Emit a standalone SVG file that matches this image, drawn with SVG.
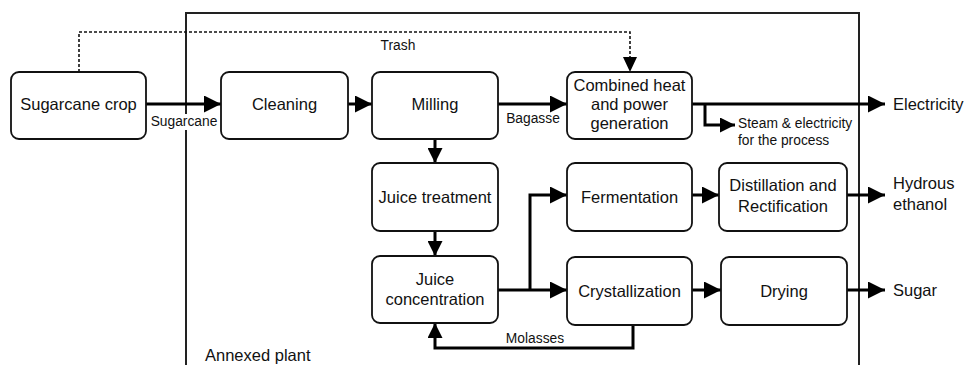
<svg xmlns="http://www.w3.org/2000/svg" width="964" height="365" viewBox="0 0 964 365">
<style>
.node rect{fill:#fff;stroke:#111;stroke-width:1.8}
.t{font-family:"Liberation Sans",Arial,sans-serif;font-size:16.5px;fill:#111;text-anchor:middle}
.s{font-family:"Liberation Sans",Arial,sans-serif;font-size:13.8px;fill:#111}
.c{fill:none;stroke:#000;stroke-width:3}
.d{fill:none;stroke:#111;stroke-width:1.6;stroke-dasharray:3 2}
</style>
<defs>
<marker id="ah" markerUnits="userSpaceOnUse" markerWidth="17" markerHeight="17" refX="17" refY="8.5" orient="auto">
<path d="M0,0 L17,8.5 L0,17 z" fill="#000"/>
</marker>
<marker id="ahs" markerUnits="userSpaceOnUse" markerWidth="15" markerHeight="15" refX="15" refY="7.5" orient="auto">
<path d="M0,0 L15,7.5 L0,15 z" fill="#000"/>
</marker>
</defs>
<rect width="964" height="365" fill="#fff"/>
<g id="annexed-plant">
<rect x="186" y="13" width="673" height="380" fill="none" stroke="#222" stroke-width="2"/>
<text class="t" x="205" y="361" style="text-anchor:start">Annexed plant</text>
</g>
<g id="connectors">
<path class="d" d="M79,72 V32 H630 V57"/>
<path d="M623,57 L637,57 L630,72 z" fill="#000"/>
<path class="c" d="M146,104 H221" marker-end="url(#ah)"/>
<path class="c" d="M348,104 H372" marker-end="url(#ah)"/>
<path class="c" d="M498,104 H567" marker-end="url(#ah)"/>
<path class="c" d="M692,104 H885" marker-end="url(#ah)"/>
<path class="c" d="M705,104 V125 H735" marker-end="url(#ahs)"/>
<path class="c" d="M435,139 V163" marker-end="url(#ahs)"/>
<path class="c" d="M435,231 V256" marker-end="url(#ahs)"/>
<path class="c" d="M498,290 H567" marker-end="url(#ah)"/>
<path class="c" d="M530,290 V195 H567" marker-end="url(#ah)"/>
<path class="c" d="M692,195 H719" marker-end="url(#ah)"/>
<path class="c" d="M692,290 H721" marker-end="url(#ah)"/>
<path class="c" d="M847,195 H885" marker-end="url(#ah)"/>
<path class="c" d="M847,290 H885" marker-end="url(#ah)"/>
<path class="c" d="M633,325 V348 H435 V323" marker-end="url(#ahs)"/>
<text class="s" x="398" y="50" text-anchor="middle">Trash</text>
<rect x="149" y="114" width="70" height="16" fill="#fff"/>
<text class="s" x="184" y="126" text-anchor="middle">Sugarcane</text>
<text class="s" x="533" y="123" text-anchor="middle">Bagasse</text>
<text class="s" x="738" y="128">Steam &amp; electricity</text>
<text class="s" x="738" y="145">for the process</text>
<text class="s" x="535" y="343" text-anchor="middle">Molasses</text>
</g>
<g id="sugarcane-crop" class="node"><rect x="11" y="72" width="135" height="67" rx="8"/><text class="t" x="78.5" y="110">Sugarcane crop</text></g>
<g id="cleaning" class="node"><rect x="221" y="72" width="127" height="67" rx="8"/><text class="t" x="284.5" y="110">Cleaning</text></g>
<g id="milling" class="node"><rect x="372" y="72" width="126" height="67" rx="8"/><text class="t" x="435" y="110">Milling</text></g>
<g id="chp" class="node"><rect x="567" y="72" width="125" height="67" rx="8"/><text class="t" x="629.5" y="91">Combined heat</text><text class="t" x="629.5" y="110">and power</text><text class="t" x="629.5" y="129">generation</text></g>
<g id="juice-treatment" class="node"><rect x="372" y="163" width="126" height="68" rx="8"/><text class="t" x="435" y="203">Juice treatment</text></g>
<g id="juice-concentration" class="node"><rect x="372" y="256" width="126" height="67" rx="8"/><text class="t" x="435" y="285">Juice</text><text class="t" x="435" y="305">concentration</text></g>
<g id="fermentation" class="node"><rect x="567" y="163" width="125" height="68" rx="8"/><text class="t" x="629.5" y="203">Fermentation</text></g>
<g id="crystallization" class="node"><rect x="567" y="257" width="125" height="68" rx="8"/><text class="t" x="629.5" y="297">Crystallization</text></g>
<g id="distillation" class="node"><rect x="719" y="163" width="128" height="68" rx="8"/><text class="t" x="783" y="191">Distillation and</text><text class="t" x="783" y="212">Rectification</text></g>
<g id="drying" class="node"><rect x="721" y="257" width="126" height="68" rx="8"/><text class="t" x="784" y="297">Drying</text></g>
<g id="outputs">
<text class="t" x="893" y="110" style="text-anchor:start">Electricity</text>
<text class="t" x="893" y="189" style="text-anchor:start">Hydrous</text>
<text class="t" x="893" y="210" style="text-anchor:start">ethanol</text>
<text class="t" x="893" y="296" style="text-anchor:start">Sugar</text>
</g>
</svg>
